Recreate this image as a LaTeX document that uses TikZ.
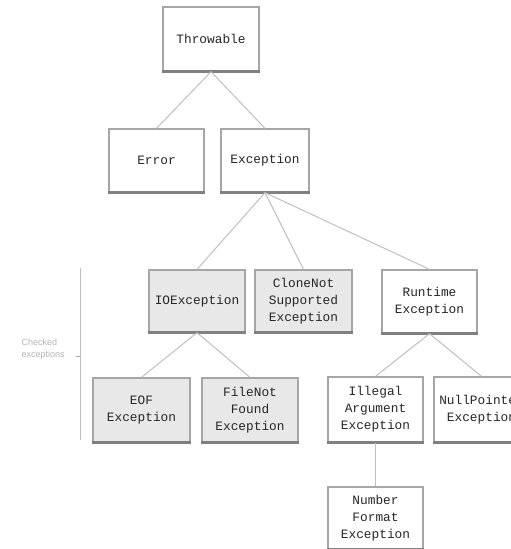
\documentclass[tikz,border=0pt]{standalone}
\usepackage{fontspec}
\setmonofont{Liberation Mono}
\newfontfamily\labelfont{Liberation Sans}
\begin{document}
\begin{tikzpicture}[x=1pt,y=-1pt,
  cls/.style={draw=black!35, line width=1.3pt, fill=white, rectangle, align=center,
    minimum width=95pt, minimum height=63pt, inner sep=1pt,
    font=\ttfamily\fontsize{12.8}{17}\selectfont, text=black!85},
  chk/.style={cls, fill=black!9},
  link/.style={draw=black!25, line width=1pt},
  base/.style={draw=black!50, line width=2.5pt}]
\clip (0,0) rectangle (511,549);
\useasboundingbox (0,0) rectangle (511,549);
% nodes
\node[cls, minimum width=96pt, minimum height=64pt] (thr) at (211,39) {Throwable};
\node[cls] (err) at (156.5,160.5) {Error};
\node[cls, minimum width=88pt] (exc) at (265,160.5) {Exception};
\node[chk, minimum width=96pt, minimum height=62pt] (ioe) at (197,301) {IOException};
\node[chk, minimum width=97pt, minimum height=62pt] (cns) at (303.5,301) {CloneNot\\Supported\\Exception};
\node[cls] (rte) at (429.5,301.5) {Runtime\\Exception};
\node[chk, minimum width=97pt, minimum height=64pt] (eof) at (141.5,410) {EOF\\Exception};
\node[chk, minimum width=96pt, minimum height=64pt] (fnf) at (250,410) {FileNot\\Found\\Exception};
\node[cls, minimum height=65pt] (iae) at (375.5,409.5) {Illegal\\Argument\\Exception};
\node[cls, minimum height=65pt] (npe) at (481.5,409.5) {NullPointer\\Exception};
\node[cls, minimum height=62pt] (nfe) at (375.5,518) {Number\\Format\\Exception};
% bottom edges
\foreach \n in {thr,err,exc,ioe,cns,rte,eof,fnf,iae,npe,nfe}
  \draw[base] (\n.south west) -- (\n.south east);
% connectors
\draw[link] (thr.south) -- (err.north);
\draw[link] (thr.south) -- (exc.north);
\draw[link] (exc.south) -- (ioe.north);
\draw[link] (exc.south) -- (cns.north);
\draw[link] (exc.south) -- (rte.north);
\draw[link] (ioe.south) -- (eof.north);
\draw[link] (ioe.south) -- (fnf.north);
\draw[link] (rte.south) -- (iae.north);
\draw[link] (rte.south) -- (npe.north);
\draw[link] (iae.south) -- (nfe.north);
% checked bracket
\coordinate (bt) at (80,268);
\coordinate (bb) at (80,440);
\coordinate (bm) at (80,356);
\coordinate (bmt) at (76,356);
\draw[draw=black!25, line width=1pt] (bt) -- (bb);
\draw[draw=black!35, line width=1pt] (bm) -- (bmt);
\node[font=\labelfont\fontsize{9}{12}\selectfont, text=black!30, align=left, anchor=west] (lab) at (18,349) {Checked\\exceptions};
\end{tikzpicture}
\end{document}
